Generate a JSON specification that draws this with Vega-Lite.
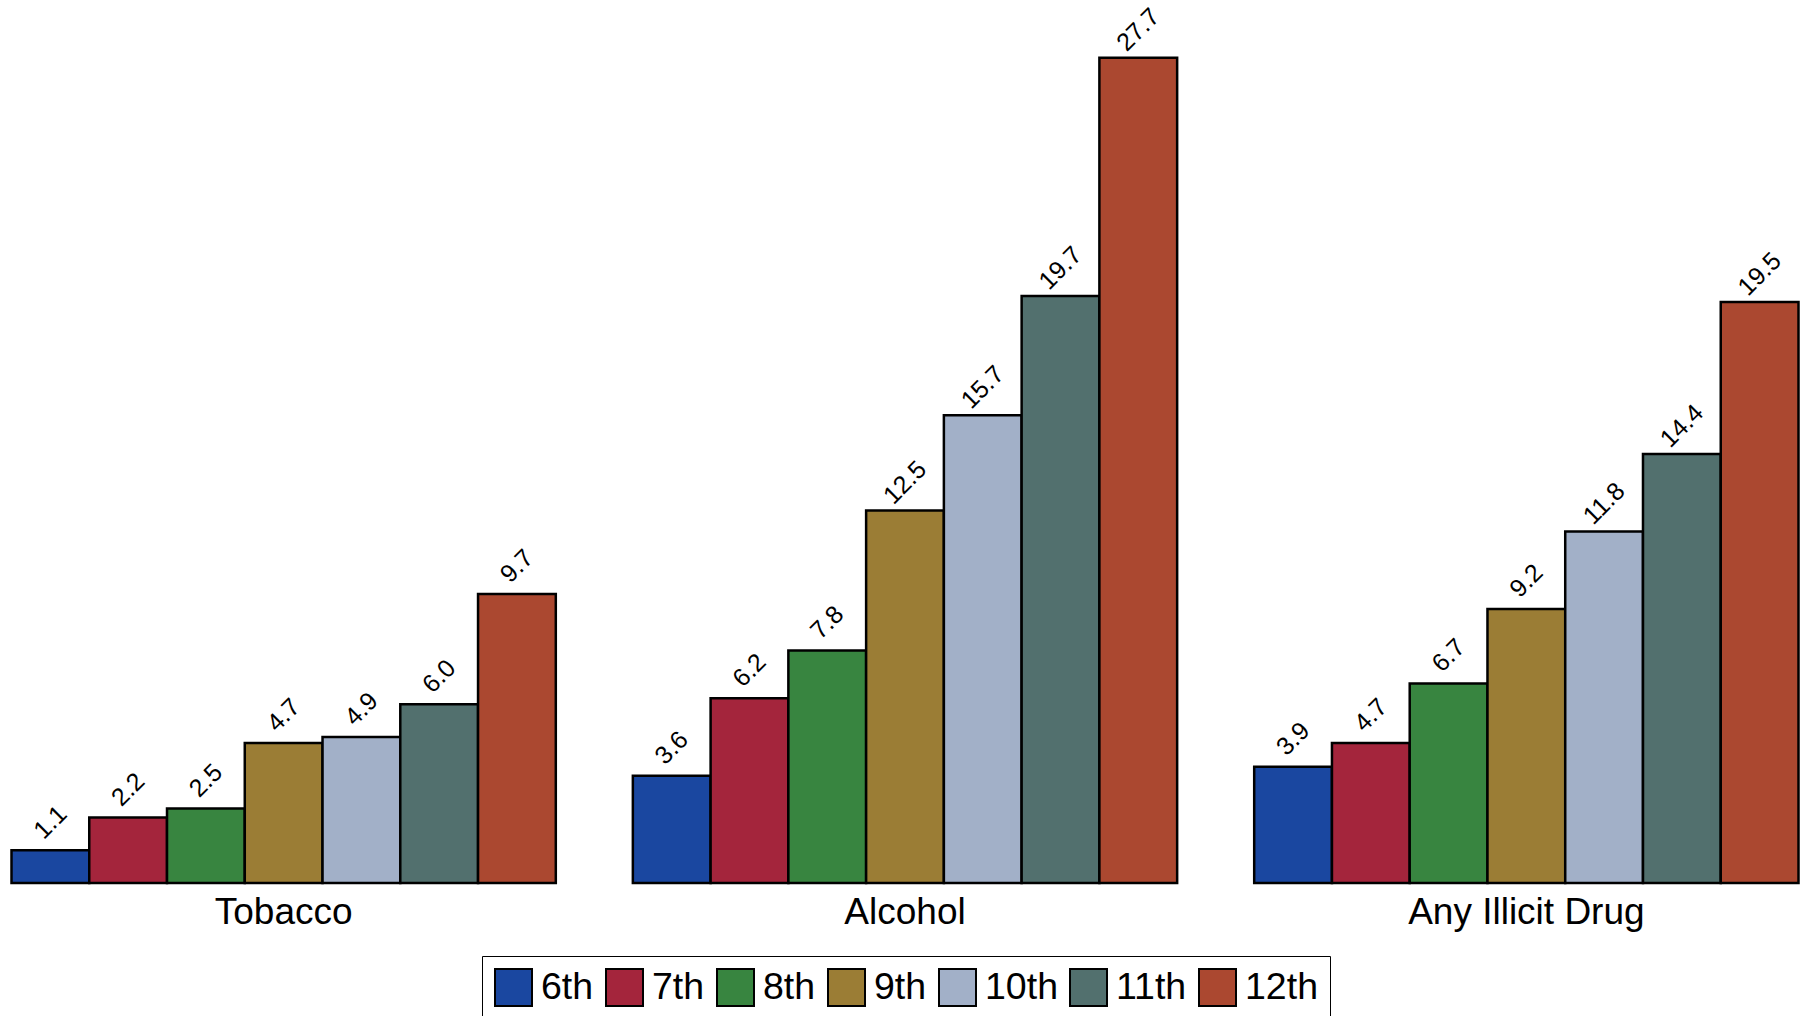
{
  "$schema": "https://vega.github.io/schema/vega-lite/v6.json",
  "width": 1787,
  "height": 864,
  "autosize": {"type": "none"},
  "padding": {"left": 11.5, "top": 19, "right": 5.5, "bottom": 133},
  "background": "white",
  "data": {
    "values": [
      {"substance": "Tobacco", "grade": "6th", "pct": 1.1},
      {"substance": "Tobacco", "grade": "7th", "pct": 2.2},
      {"substance": "Tobacco", "grade": "8th", "pct": 2.5},
      {"substance": "Tobacco", "grade": "9th", "pct": 4.7},
      {"substance": "Tobacco", "grade": "10th", "pct": 4.9},
      {"substance": "Tobacco", "grade": "11th", "pct": 6.0},
      {"substance": "Tobacco", "grade": "12th", "pct": 9.7},
      {"substance": "Alcohol", "grade": "6th", "pct": 3.6},
      {"substance": "Alcohol", "grade": "7th", "pct": 6.2},
      {"substance": "Alcohol", "grade": "8th", "pct": 7.8},
      {"substance": "Alcohol", "grade": "9th", "pct": 12.5},
      {"substance": "Alcohol", "grade": "10th", "pct": 15.7},
      {"substance": "Alcohol", "grade": "11th", "pct": 19.7},
      {"substance": "Alcohol", "grade": "12th", "pct": 27.7},
      {"substance": "Any Illicit Drug", "grade": "6th", "pct": 3.9},
      {"substance": "Any Illicit Drug", "grade": "7th", "pct": 4.7},
      {"substance": "Any Illicit Drug", "grade": "8th", "pct": 6.7},
      {"substance": "Any Illicit Drug", "grade": "9th", "pct": 9.2},
      {"substance": "Any Illicit Drug", "grade": "10th", "pct": 11.8},
      {"substance": "Any Illicit Drug", "grade": "11th", "pct": 14.4},
      {"substance": "Any Illicit Drug", "grade": "12th", "pct": 19.5}
    ]
  },
  "encoding": {
    "x": {
      "field": "substance",
      "type": "nominal",
      "sort": ["Tobacco", "Alcohol", "Any Illicit Drug"],
      "scale": {"paddingInner": 0.124, "paddingOuter": 0},
      "axis": {
        "title": null,
        "domain": false,
        "ticks": false,
        "labelAngle": 0,
        "labelFontSize": 37,
        "labelFont": "Liberation Sans",
        "labelColor": "black",
        "labelPadding": 11,
        "labelLimit": 0
      }
    },
    "xOffset": {
      "field": "grade",
      "type": "nominal",
      "sort": ["6th", "7th", "8th", "9th", "10th", "11th", "12th"],
      "scale": {"paddingInner": 0, "paddingOuter": 0}
    },
    "y": {
      "field": "pct",
      "type": "quantitative",
      "scale": {"domain": [0, 29]},
      "axis": null
    }
  },
  "layer": [
    {
      "mark": {"type": "bar", "stroke": "black", "strokeWidth": 2.5, "opacity": 1},
      "encoding": {
        "color": {
          "field": "grade",
          "type": "nominal",
          "sort": ["6th", "7th", "8th", "9th", "10th", "11th", "12th"],
          "scale": {
            "domain": ["6th", "7th", "8th", "9th", "10th", "11th", "12th"],
            "range": ["#1a47a0", "#a4253c", "#388540", "#9b7d35", "#a2b0c8", "#52706e", "#ab4830"]
          },
          "legend": {
            "title": null,
            "orient": "none",
            "direction": "horizontal",
            "legendX": 470.5,
            "legendY": 937,
            "padding": 12,
            "fillColor": "white",
            "strokeColor": "black",
            "symbolType": "square",
            "symbolSize": 1369,
            "symbolStrokeColor": "black",
            "symbolStrokeWidth": 2,
            "symbolOpacity": 1,
            "labelFontSize": 37.5,
            "labelFont": "Liberation Sans",
            "labelColor": "black",
            "labelOffset": 8,
            "columnPadding": 8
          }
        }
      }
    },
    {
      "mark": {
        "type": "text",
        "angle": 315,
        "fontSize": 25,
        "font": "Liberation Sans",
        "color": "black",
        "align": "center",
        "baseline": "middle",
        "yOffset": -28
      },
      "encoding": {
        "text": {"field": "pct", "type": "quantitative", "format": ".1f"}
      }
    }
  ],
  "config": {"view": {"stroke": null}}
}
